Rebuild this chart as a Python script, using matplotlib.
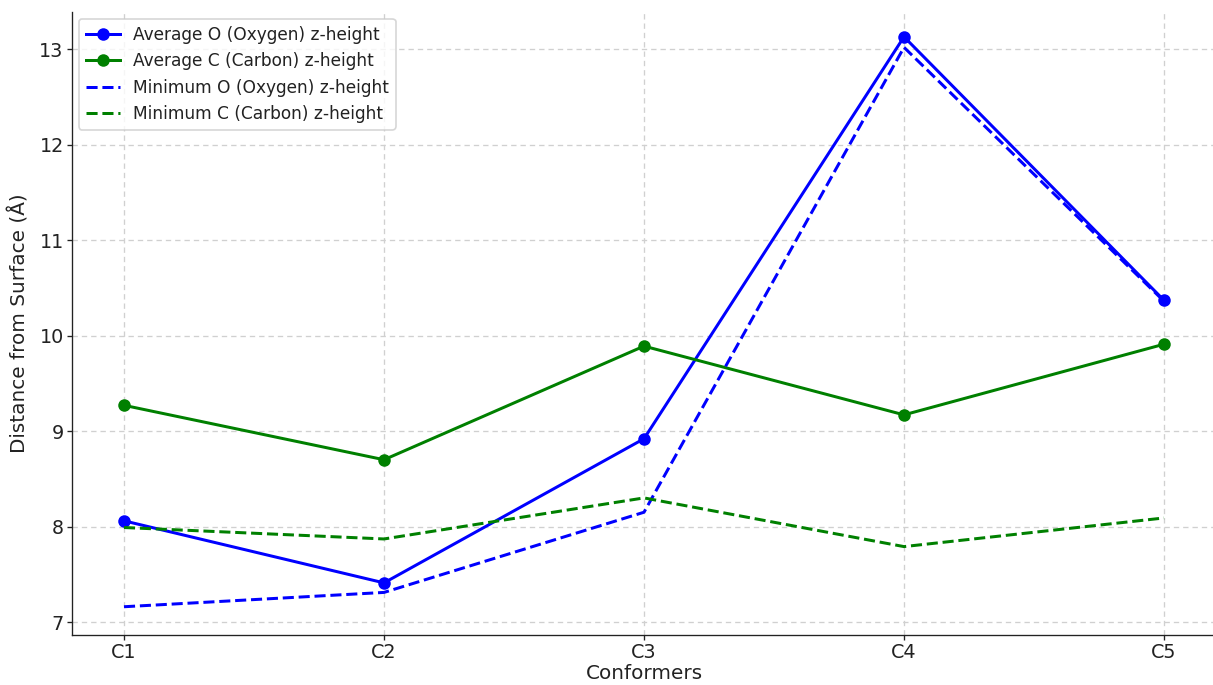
import matplotlib
matplotlib.use("Agg")
import matplotlib.pyplot as plt

conformers = ["C1", "C2", "C3", "C4", "C5"]
avg_O = [8.06, 7.41, 8.92, 13.13, 10.37]
avg_C = [9.27, 8.70, 9.89, 9.17, 9.91]
min_O = [7.16, 7.31, 8.15, 13.02, 10.36]
min_C = [7.99, 7.87, 8.30, 7.79, 8.09]

plt.rcParams["text.color"] = "#222222"
plt.rcParams["axes.labelcolor"] = "#222222"
plt.rcParams["xtick.color"] = "#222222"
plt.rcParams["ytick.color"] = "#222222"

fig = plt.figure(figsize=(1213 / 120, 685 / 120), dpi=120)
ax = fig.add_axes([72 / 1213, 1 - 635 / 685, (1216 - 72) / 1213, (635 - 12) / 685])

x = list(range(len(conformers)))
lw = 1.8
ax.plot(x, avg_O, marker="o", markersize=6.5, color="blue", linewidth=lw, label="Average O (Oxygen) z-height")
ax.plot(x, avg_C, marker="o", markersize=6.5, color="green", linewidth=lw, label="Average C (Carbon) z-height")
ax.plot(x, min_O, linestyle="--", color="blue", linewidth=lw, label="Minimum O (Oxygen) z-height")
ax.plot(x, min_C, linestyle="--", color="green", linewidth=lw, label="Minimum C (Carbon) z-height")

ax.set_xticks(x)
ax.set_xticklabels(conformers)
ax.set_xlim(-0.2, 4.2)
ax.set_ylim(6.864, 13.39)
ax.set_yticks([7, 8, 9, 10, 11, 12, 13])
ax.set_xlabel("Conformers", fontsize=12, labelpad=1)
ax.set_ylabel("Distance from Surface (Å)", fontsize=12, labelpad=6)
ax.tick_params(labelsize=11.5, length=3, pad=2)
ax.grid(True, linestyle=(0, (4, 3)), color="#d0d0d0", linewidth=0.8)
ax.spines["top"].set_visible(False)
ax.spines["right"].set_visible(False)
ax.spines["left"].set_color("#222222")
ax.spines["bottom"].set_color("#222222")
ax.legend(loc="upper left", fontsize=10.2, framealpha=0.8, borderaxespad=0.4,
          labelspacing=0.5, handlelength=2.0)

fig.savefig("out.png", dpi=120)
